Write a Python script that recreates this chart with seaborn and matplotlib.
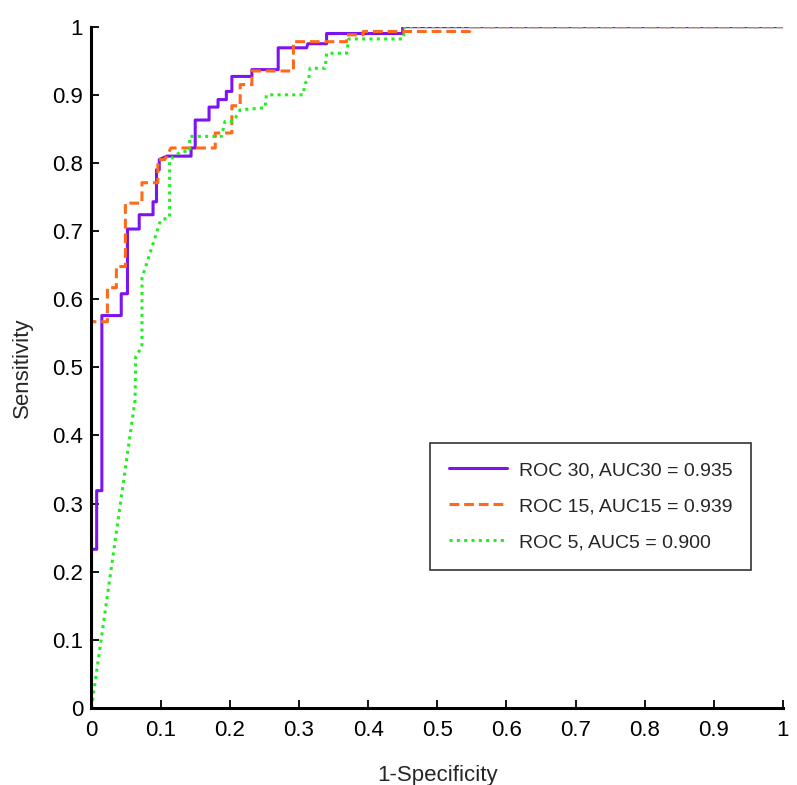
import matplotlib
matplotlib.use("Agg")
import matplotlib.pyplot as plt
import seaborn as sns
import pandas as pd

# ROC curve vertices (1-specificity, sensitivity)
roc30_fpr = [0, 0, 0.0075, 0.0075, 0.015, 0.015, 0.043, 0.043, 0.052, 0.052, 0.069, 0.069,
             0.089, 0.089, 0.094, 0.094, 0.098, 0.098, 0.109, 0.144, 0.144, 0.15, 0.15, 0.17,
             0.17, 0.183, 0.183, 0.195, 0.195, 0.203, 0.203, 0.232, 0.232, 0.27, 0.27, 0.311,
             0.313, 0.34, 0.34, 0.45, 0.45, 1.0]
roc30_tpr = [0, 0.233, 0.233, 0.319, 0.319, 0.576, 0.576, 0.608, 0.608, 0.703, 0.703, 0.724,
             0.724, 0.743, 0.743, 0.79, 0.79, 0.805, 0.81, 0.81, 0.822, 0.822, 0.863, 0.863,
             0.882, 0.882, 0.893, 0.893, 0.905, 0.905, 0.927, 0.927, 0.937, 0.937, 0.969, 0.969,
             0.975, 0.975, 0.99, 0.99, 1.0, 1.0]

roc15_fpr = [0, 0, 0.023, 0.023, 0.036, 0.036, 0.049, 0.049, 0.073, 0.073, 0.096, 0.096,
             0.106, 0.115, 0.179, 0.179, 0.203, 0.203, 0.215, 0.215, 0.232, 0.232, 0.292,
             0.292, 0.369, 0.369, 0.393, 0.393, 0.547, 0.547, 1.0]
roc15_tpr = [0, 0.567, 0.567, 0.617, 0.617, 0.648, 0.648, 0.741, 0.741, 0.771, 0.771, 0.805,
             0.805, 0.822, 0.822, 0.844, 0.844, 0.884, 0.884, 0.915, 0.915, 0.935, 0.935,
             0.978, 0.978, 0.988, 0.988, 0.993, 0.993, 1.0, 1.0]

roc5_fpr = [0, 0.063, 0.064, 0.073, 0.073, 0.1, 0.113, 0.113, 0.13, 0.142, 0.142, 0.188,
            0.193, 0.205, 0.215, 0.251, 0.253, 0.306, 0.309, 0.314, 0.316, 0.338, 0.34,
            0.369, 0.372, 0.451, 0.453, 1.0]
roc5_tpr = [0, 0.452, 0.516, 0.53, 0.631, 0.716, 0.72, 0.805, 0.817, 0.817, 0.839, 0.839,
            0.861, 0.861, 0.878, 0.881, 0.9, 0.9, 0.917, 0.922, 0.939, 0.939, 0.961,
            0.961, 0.982, 0.982, 1.0, 1.0]

labels = ["ROC 30, AUC30 = 0.935", "ROC 15, AUC15 = 0.939", "ROC 5, AUC5 = 0.900"]
colors = ["#7b14f0", "#ff6a1a", "#22ee22"]
styles = ["-", (0, (3.2, 1.6)), (0, (1, 1.4))]

sns.set_style("ticks")
plt.rcParams["font.family"] = ["Liberation Sans", "DejaVu Sans"]

fig = plt.figure(figsize=(7.97, 7.85), dpi=100)
ax = fig.add_axes([0.1148, 0.0981, 0.8676, 0.8679])

curves = [(roc30_fpr, roc30_tpr), (roc15_fpr, roc15_tpr), (roc5_fpr, roc5_tpr)]
for (fpr, tpr), lab, col, ls in zip(curves, labels, colors, styles):
    df = pd.DataFrame({"fpr": fpr, "tpr": tpr})
    sns.lineplot(data=df, x="fpr", y="tpr", sort=False, estimator=None, ax=ax,
                 color=col, linewidth=2.2, linestyle=ls, label=lab)

ax.set_xlim(0, 1)
ax.set_ylim(0, 1)
ticks = [i / 10 for i in range(11)]
tick_labels = ["0", "0.1", "0.2", "0.3", "0.4", "0.5", "0.6", "0.7", "0.8", "0.9", "1"]
ax.set_xticks(ticks)
ax.set_yticks(ticks)
ax.set_xticklabels(tick_labels)
ax.set_yticklabels(tick_labels)
ax.tick_params(direction="in", length=6, width=1.3, labelsize=16, colors="black")
ax.tick_params(axis="x", pad=9)
ax.tick_params(axis="y", pad=6)
for side in ["top", "right"]:
    ax.spines[side].set_visible(False)
for side in ["left", "bottom"]:
    ax.spines[side].set_linewidth(2.2)
    ax.spines[side].set_color("black")

ax.set_xlabel("1-Specificity", fontsize=16, labelpad=17)
ax.set_ylabel("Sensitivity", fontsize=16, labelpad=14)

leg = ax.legend(loc="upper left", bbox_to_anchor=(0.49, 0.389), frameon=True, fancybox=False,
                borderpad=0.95, labelspacing=0.95, handlelength=3.0, handletextpad=0.6,
                borderaxespad=0, fontsize=14)
leg.get_frame().set_edgecolor("black")
leg.get_frame().set_linewidth(1.2)

fig.savefig("out.png", dpi=100, facecolor="white")
